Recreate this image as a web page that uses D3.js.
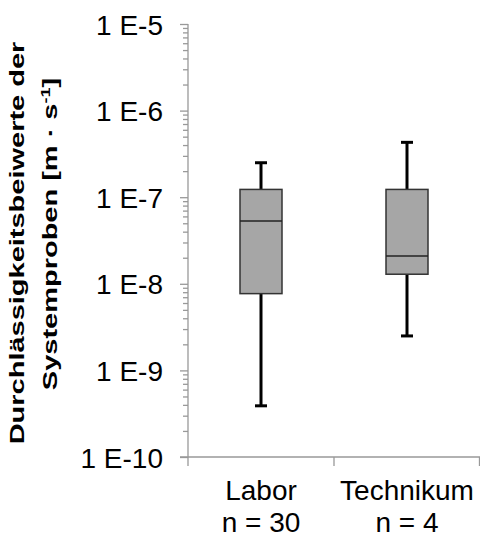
<!DOCTYPE html>
<html>
<head>
<meta charset="utf-8">
<script src="https://cdn.jsdelivr.net/npm/d3@7"></script>
<style>
  body { margin: 0; background: #fff; }
  text { font-family: "Liberation Sans", Arial, sans-serif; fill: #000; }
</style>
</head>
<body>
<svg width="480" height="536"></svg>
<script>
let width = 480, height = 536;

// data (m/s)
var categories = ["Labor", "Technikum"];
var sampleSizes = ["n = 30", "n = 4"];
var whiskerLow = [3.9e-10, 2.5e-9];
var q1 = [7.7e-9, 1.29e-8];
var median = [5.3e-8, 2.1e-8];
var q3 = [1.23e-7, 1.23e-7];
var whiskerHigh = [2.5e-7, 4.3e-7];
var majorTicks = [1e-10, 1e-9, 1e-8, 1e-7, 1e-6, 1e-5];
var tickLabels = ["1 E-10", "1 E-9", "1 E-8", "1 E-7", "1 E-6", "1 E-5"];

let svg = d3.select("svg")

var y = d3.scaleLog()
    .domain([1e-10, 1e-5])
    .range([457, 24]);

var x = d3.scaleBand()
    .domain(categories)
    .range([188, 480]);

// all minor ticks 1..9 per decade
var allTicks = [];
majorTicks.forEach(function(m, i) {
    if (i == majorTicks.length - 1) { allTicks.push(m); return; }
    for (let k = 1; k < 10; k++) allTicks.push(m * k);
});

var yAxis = d3.axisLeft(y)
    .tickValues(allTicks)
    .tickSize(8)
    .tickPadding(17)
    .tickFormat(function(d) {
        let i = majorTicks.findIndex(m => Math.abs(m - d) / m < 1e-6);
        return i >= 0 ? tickLabels[i] : "";
    });

let gy = svg.append("g")
    .attr("transform", "translate(188,0)")
    .call(yAxis)
gy.select(".domain").remove();
gy.selectAll("line")
    .attr("stroke", "#999")
    .attr("stroke-width", 1.3)
    .attr("x2", function(d) {
        return majorTicks.some(m => Math.abs(m - d) / m < 1e-6) ? -8 : -5
    });
gy.selectAll("text")
    .style("font-size", "28px")
    .attr("fill", "#000")
    .attr("dy", "0.36em");

// axis lines
svg.append("line")
    .attr("x1", 188).attr("x2", 188)
    .attr("y1", y(1e-5)).attr("y2", 466)
    .attr("stroke", "#999").attr("stroke-width", 1.3);
svg.append("line")
    .attr("x1", 180).attr("x2", 480)
    .attr("y1", y(1e-10)).attr("y2", y(1e-10))
    .attr("stroke", "#999").attr("stroke-width", 1.3);

// category separator ticks
svg.selectAll(".xtick")
    .data(categories.slice(1).concat(["end"]))
    .enter()
    .append("line")
    .attr("x1", (d, i) => i < categories.length - 1 ? x(d) : x.range()[1] - 0.5)
    .attr("x2", (d, i) => i < categories.length - 1 ? x(d) : x.range()[1] - 0.5)
    .attr("y1", y(1e-10))
    .attr("y2", 466)
    .attr("stroke", "#999").attr("stroke-width", 1.3);

// category labels
let xl = svg.append("g");
categories.forEach(function(c, i) {
    let cx = x(c) + x.bandwidth() / 2;
    xl.append("text")
        .attr("x", cx).attr("y", 500)
        .attr("text-anchor", "middle")
        .style("font-size", "28px")
        .text(c);
    xl.append("text")
        .attr("x", cx).attr("y", 532)
        .attr("text-anchor", "middle")
        .style("font-size", "28px")
        .text(sampleSizes[i]);
});

// boxes
let boxW = 42, capW = 12;
let boxes = svg.append("g").selectAll("g")
    .data(categories)
    .enter()
    .append("g");

boxes.append("line")
    .attr("x1", d => x(d) + x.bandwidth() / 2)
    .attr("x2", d => x(d) + x.bandwidth() / 2)
    .attr("y1", (d, i) => y(whiskerHigh[i]))
    .attr("y2", (d, i) => y(whiskerLow[i]))
    .attr("stroke", "#000").attr("stroke-width", 3);

boxes.selectAll(".cap")
    .data((d, i) => [[d, whiskerHigh[i]], [d, whiskerLow[i]]])
    .enter()
    .append("line")
    .attr("x1", d => x(d[0]) + x.bandwidth() / 2 - capW / 2)
    .attr("x2", d => x(d[0]) + x.bandwidth() / 2 + capW / 2)
    .attr("y1", d => y(d[1]))
    .attr("y2", d => y(d[1]))
    .attr("stroke", "#000").attr("stroke-width", 3);

boxes.append("rect")
    .attr("x", d => x(d) + x.bandwidth() / 2 - boxW / 2)
    .attr("width", boxW)
    .attr("y", (d, i) => y(q3[i]))
    .attr("height", (d, i) => y(q1[i]) - y(q3[i]))
    .attr("fill", "#a6a6a6")
    .attr("stroke", "#333")
    .attr("stroke-width", 1.5);

boxes.append("line")
    .attr("x1", d => x(d) + x.bandwidth() / 2 - boxW / 2)
    .attr("x2", d => x(d) + x.bandwidth() / 2 + boxW / 2)
    .attr("y1", (d, i) => y(median[i]))
    .attr("y2", (d, i) => y(median[i]))
    .attr("stroke", "#222").attr("stroke-width", 1.5);

// y title (squeezed like the original)
svg.append("text")
    .attr("transform", "translate(24,243) scale(0.68,1) rotate(-90)")
    .attr("text-anchor", "middle")
    .style("font-size", "29px")
    .style("font-weight", "bold")
    .text("Durchlässigkeitsbeiwerte der");

let t2 = svg.append("text")
    .attr("transform", "translate(57,234) scale(0.68,1) rotate(-90)")
    .attr("text-anchor", "middle")
    .style("font-size", "29px")
    .style("font-weight", "bold");
t2.append("tspan").text("Systemproben [m · s");
t2.append("tspan").attr("dy", -11).style("font-size", "18px").text("-1");
t2.append("tspan").attr("dy", 11).text("]");
</script>
</body>
</html>
